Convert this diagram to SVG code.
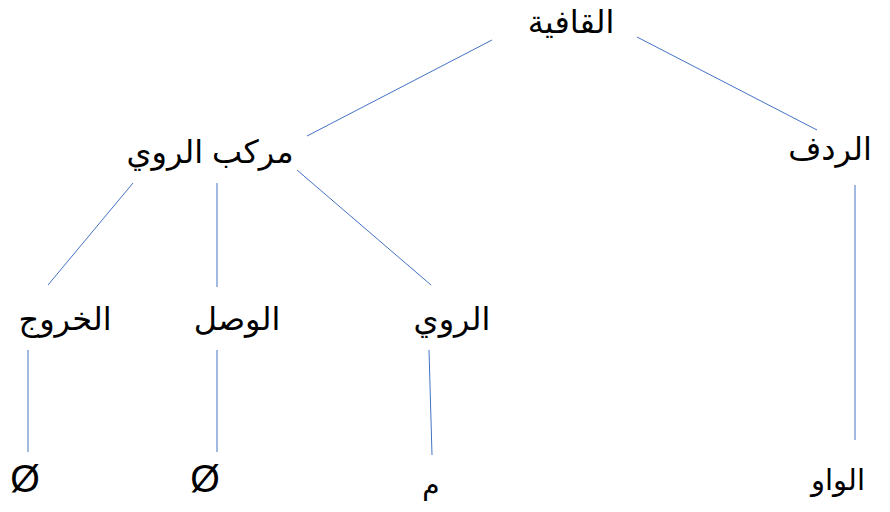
<svg xmlns="http://www.w3.org/2000/svg" width="890" height="512" viewBox="0 0 890 512">
<style>
text{font-family:"Liberation Sans","DejaVu Sans",sans-serif;font-size:32px;fill:#000;text-anchor:middle}
.c line{stroke:#4472C4;stroke-width:1}
</style>
<rect width="890" height="512" fill="#fff"/>
<g class="c" id="connectors">
<line x1="492" y1="40" x2="307" y2="136"/>
<line x1="637" y1="37" x2="817" y2="130"/>
<line x1="133" y1="183" x2="48" y2="285"/>
<line x1="217" y1="183" x2="217" y2="287"/>
<line x1="297" y1="170" x2="431" y2="285"/>
<line x1="28" y1="350" x2="28" y2="452"/>
<line x1="217" y1="350" x2="217" y2="452"/>
<line x1="429" y1="350" x2="432" y2="455"/>
<line x1="855" y1="185" x2="855" y2="440"/>
</g>
<g id="n-qafiya"><text x="571" y="33">القافية</text></g>
<g id="n-murakkab"><text x="210" y="163">مركب الروي</text></g>
<g id="n-ridf"><text x="830" y="160">الردف</text></g>
<g id="n-khuruj"><text x="65" y="330">الخروج</text></g>
<g id="n-wasl"><text x="237" y="330">الوصل</text></g>
<g id="n-rawi"><text x="452" y="330">الروي</text></g>
<g id="n-empty1"><text x="25" y="492" style="font-size:38px">Ø</text></g>
<g id="n-empty2"><text x="205" y="492" style="font-size:38px">Ø</text></g>
<g id="n-mim"><text x="431" y="494" style="font-size:28px">م</text></g>
<g id="n-waw"><text x="838" y="490" style="font-size:29px">الواو</text></g>
</svg>
